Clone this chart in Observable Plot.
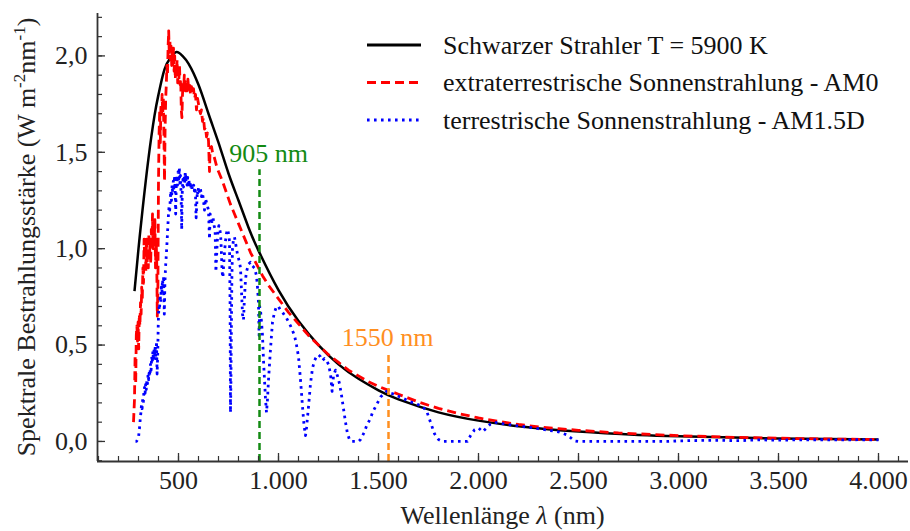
<!DOCTYPE html>
<html><head><meta charset="utf-8">
<script src="https://cdn.jsdelivr.net/npm/d3@7"></script>
<script src="https://cdn.jsdelivr.net/npm/@observablehq/plot@0.6"></script>
<style>
body{margin:0;background:#fff;}
#chart{width:910px;height:531px;}
</style></head><body><div id="chart"></div>
<script>
// Schwarzer Strahler T = 5900 K
const blackBody = [[280,0.78],[300,1.0],[320,1.2],[350,1.47],[380,1.69],[400,1.80],[430,1.93],[460,1.99],[490,2.02],[520,2.0],[550,1.96],[600,1.85],[650,1.70],[700,1.55],[750,1.39],[800,1.25],[850,1.11],[900,0.99],[1000,0.785],[1100,0.625],[1200,0.50],[1300,0.40],[1400,0.325],[1500,0.265],[1600,0.218],[1800,0.151],[2000,0.108],[2200,0.079],[2500,0.051],[2800,0.034],[3000,0.027],[3500,0.0155],[4000,0.0096]];

// extraterrestrische Sonnenstrahlung - AM0
const am0 = [[275,0.10],[280,0.22],[283,0.45],[286,0.30],[289,0.55],[292,0.60],[295,0.52],[298,0.62],[301,0.48],[304,0.66],[307,0.60],[310,0.72],[313,0.66],[316,0.80],[319,0.74],[322,0.90],[325,0.82],[328,1.05],[331,0.95],[334,1.02],[337,0.88],[340,1.05],[343,0.92],[346,1.00],[349,0.90],[352,1.08],[355,0.95],[358,1.05],[361,0.92],[364,1.10],[367,1.02],[370,1.18],[373,1.00],[376,1.12],[379,1.05],[382,1.15],[385,0.90],[388,1.05],[391,0.95],[394,0.65],[397,0.80],[400,1.35],[403,1.60],[406,1.72],[409,1.55],[412,1.75],[415,1.68],[418,1.80],[421,1.70],[424,1.78],[427,1.60],[430,1.35],[433,1.62],[436,1.78],[439,1.85],[442,1.95],[445,1.90],[448,2.05],[451,2.13],[454,2.00],[457,2.08],[460,1.98],[463,2.05],[466,1.95],[469,2.02],[472,1.96],[475,2.04],[478,1.92],[481,2.00],[484,1.88],[487,1.95],[490,1.90],[493,1.98],[496,1.86],[499,1.93],[502,1.88],[505,1.95],[508,1.85],[511,1.88],[514,1.72],[517,1.68],[520,1.80],[523,1.86],[526,1.82],[529,1.90],[532,1.85],[535,1.88],[538,1.80],[541,1.86],[544,1.82],[547,1.88],[550,1.84],[555,1.86],[560,1.80],[565,1.84],[570,1.80],[575,1.83],[580,1.78],[585,1.80],[590,1.72],[595,1.78],[600,1.75],[605,1.72],[610,1.70],[615,1.72],[620,1.66],[625,1.68],[630,1.62],[635,1.63],[640,1.58],[645,1.60],[650,1.56],[655,1.40],[658,1.52],[665,1.53],[670,1.50],[680,1.47],[690,1.43],[700,1.40],[720,1.35],[740,1.29],[760,1.23],[780,1.18],[800,1.13],[820,1.08],[840,1.03],[860,0.98],[880,0.94],[900,0.90],[920,0.86],[950,0.81],[1000,0.74],[1050,0.67],[1100,0.61],[1150,0.55],[1200,0.50],[1250,0.45],[1300,0.41],[1350,0.37],[1400,0.34],[1450,0.31],[1500,0.285],[1550,0.265],[1600,0.245],[1650,0.225],[1700,0.205],[1750,0.188],[1800,0.172],[1900,0.145],[2000,0.122],[2100,0.104],[2200,0.088],[2300,0.076],[2400,0.066],[2500,0.058],[2700,0.044],[3000,0.030],[3300,0.021],[3600,0.015],[4000,0.010]];

// terrestrische Sonnenstrahlung - AM1.5D
const am15d = [[285,0.0],[290,0.0],[295,0.01],[300,0.02],[303,0.05],[306,0.08],[309,0.12],[312,0.15],[315,0.19],[318,0.17],[321,0.22],[324,0.20],[327,0.26],[330,0.28],[333,0.25],[336,0.30],[339,0.27],[342,0.32],[345,0.30],[348,0.35],[351,0.32],[354,0.37],[357,0.34],[360,0.40],[363,0.37],[366,0.44],[369,0.41],[372,0.47],[375,0.42],[378,0.48],[381,0.45],[384,0.50],[387,0.42],[390,0.52],[393,0.35],[396,0.45],[399,0.62],[402,0.70],[405,0.68],[408,0.76],[411,0.72],[414,0.80],[417,0.77],[420,0.84],[423,0.80],[426,0.86],[429,0.66],[432,0.82],[435,0.90],[438,0.95],[441,1.00],[444,1.06],[447,1.12],[450,1.18],[453,1.22],[456,1.20],[459,1.26],[462,1.30],[465,1.25],[468,1.33],[471,1.29],[474,1.35],[477,1.30],[480,1.38],[483,1.32],[486,1.18],[489,1.34],[492,1.38],[495,1.33],[498,1.40],[501,1.36],[504,1.42],[507,1.34],[510,1.38],[513,1.28],[516,1.10],[519,1.30],[522,1.36],[525,1.32],[528,1.38],[531,1.34],[534,1.40],[537,1.35],[540,1.38],[543,1.33],[546,1.37],[549,1.32],[552,1.36],[555,1.32],[558,1.35],[561,1.31],[564,1.34],[567,1.30],[570,1.34],[573,1.31],[576,1.33],[579,1.30],[582,1.32],[585,1.28],[588,1.16],[591,1.22],[594,1.30],[597,1.28],[600,1.32],[605,1.29],[610,1.31],[615,1.27],[620,1.29],[625,1.25],[630,1.20],[635,1.26],[640,1.24],[645,1.22],[650,1.20],[655,1.05],[658,1.18],[663,1.17],[668,1.14],[673,1.16],[678,1.12],[683,1.10],[687,0.88],[690,0.95],[694,1.04],[698,1.10],[702,1.12],[706,1.10],[710,1.08],[714,1.00],[718,0.88],[722,0.85],[726,0.92],[730,0.98],[735,1.04],[740,1.08],[745,1.10],[750,1.08],[755,1.04],[758,0.70],[760,0.15],[762,0.30],[764,0.55],[767,0.85],[770,1.00],[775,1.05],[780,1.06],[785,1.03],[790,1.00],[795,0.97],[800,0.95],[805,0.93],[810,0.90],[815,0.78],[820,0.66],[825,0.63],[830,0.75],[835,0.84],[840,0.88],[850,0.92],[860,0.93],[870,0.91],[880,0.90],[890,0.86],[895,0.80],[900,0.72],[903,0.55],[906,0.70],[910,0.68],[915,0.62],[920,0.55],[925,0.42],[930,0.32],[935,0.22],[940,0.15],[945,0.22],[950,0.32],[955,0.40],[960,0.48],[965,0.55],[970,0.62],[980,0.67],[990,0.70],[1000,0.70],[1010,0.68],[1020,0.67],[1040,0.64],[1060,0.60],[1080,0.55],[1090,0.50],[1100,0.44],[1110,0.32],[1120,0.18],[1128,0.08],[1135,0.03],[1140,0.07],[1150,0.18],[1160,0.30],[1170,0.38],[1180,0.42],[1190,0.44],[1200,0.45],[1210,0.44],[1220,0.42],[1230,0.43],[1240,0.42],[1250,0.40],[1260,0.35],[1268,0.26],[1275,0.34],[1285,0.37],[1295,0.34],[1305,0.30],[1315,0.24],[1325,0.17],[1335,0.10],[1345,0.04],[1355,0.01],[1365,0.0],[1380,0.0],[1400,0.0],[1410,0.01],[1420,0.03],[1430,0.05],[1440,0.08],[1450,0.10],[1460,0.12],[1470,0.15],[1480,0.17],[1490,0.19],[1500,0.21],[1510,0.23],[1520,0.24],[1530,0.25],[1540,0.26],[1550,0.26],[1560,0.25],[1580,0.245],[1600,0.235],[1620,0.225],[1640,0.215],[1660,0.205],[1680,0.20],[1700,0.19],[1720,0.18],[1740,0.16],[1760,0.10],[1780,0.04],[1800,0.01],[1820,0.0],[1900,0.0],[1945,0.0],[1960,0.03],[1980,0.06],[2000,0.07],[2020,0.05],[2040,0.07],[2060,0.09],[2080,0.10],[2100,0.095],[2150,0.088],[2200,0.08],[2250,0.074],[2300,0.066],[2350,0.058],[2400,0.050],[2440,0.035],[2460,0.02],[2480,0.003],[2500,0.0],[2700,0.0],[2950,0.0],[3000,0.003],[3100,0.005],[3200,0.006],[3300,0.004],[3400,0.008],[3500,0.007],[3600,0.008],[3700,0.009],[3800,0.008],[3900,0.009],[4000,0.008]];

const seriesNames = ["Schwarzer Strahler T = 5900 K", "extraterrestrische Sonnenstrahlung - AM0", "terrestrische Sonnenstrahlung - AM1.5D"];
const seriesColors = ["#000000", "#ff0000", "#0000ff"];
const seriesDash = [null, "9,5", "2.6,4.4"];

const markerNm = [905, 1550];
const markerTop = [1.41, 0.457];
const markerLabel = ["905 nm", "1550 nm"];
const markerLabelX = [950, 1545];
const markerLabelY = [1.495, 0.54];
const markerColors = ["#138a13", "#ff8f1f"];

const xMajor = [500,1000,1500,2000,2500,3000,3500,4000];
const xMinor = d3.range(100, 4101, 100);
const yMajor = [0,0.5,1.0,1.5,2.0];
const yMinor = d3.range(-1, 23).map(i => i/10);

const xDomain = [95, 4150];
const yDomain = [-0.104, 2.22];

const loc = d3.formatLocale({decimal: ",", thousands: ".", grouping: [3], currency: ["", "€"]});
const fmtX = loc.format(",d");
const fmtY = loc.format(".1f");

const FONT = "'Liberation Serif','Times New Roman',serif";
const axisColor = "#333";

const series = [blackBody, am0, am15d];
const lineMarks = series.map((data, i) => Plot.line(data, {
  x: d => d[0], y: d => d[1],
  stroke: seriesColors[i], strokeWidth: i === 0 ? 2.5 : 2.8,
  strokeDasharray: seriesDash[i] || undefined,
  strokeLinecap: "butt",
  curve: i === 0 ? "natural" : "linear"
}));

const markerMarks = markerNm.flatMap((nm, i) => [
  Plot.ruleX([nm], {x: d => d, y1: yDomain[0], y2: markerTop[i], stroke: markerColors[i], strokeWidth: 2.5, strokeDasharray: "7,4"}),
  Plot.text([markerLabel[i]], {x: markerLabelX[i], y: markerLabelY[i], text: d => d, fill: markerColors[i], fontSize: 26})
]);

const plot = Plot.plot({
  width: 910, height: 531,
  marginLeft: 97, marginRight: 2, marginTop: 13, marginBottom: 70,
  style: {fontFamily: FONT, fontSize: "26px", background: "#fff", color: "#222"},
  x: {domain: xDomain},
  y: {domain: yDomain},
  marks: [
    ...lineMarks,
    ...markerMarks,
    Plot.ruleX([xDomain[0]], {stroke: axisColor, strokeWidth: 1.8}),
    Plot.ruleY([yDomain[0]], {stroke: axisColor, strokeWidth: 1.8}),
    Plot.axisX({ticks: xMajor, tickFormat: fmtX, tickSize: 0, tickPadding: 9, label: null, fill: "#222"}),
    Plot.axisX({ticks: xMajor, tickSize: -8, fill: "none", stroke: axisColor, strokeWidth: 1.3, label: null}),
    Plot.axisX({ticks: xMinor, tickSize: -5, fill: "none", stroke: axisColor, strokeWidth: 1.2, label: null}),
    Plot.axisY({ticks: yMajor, tickFormat: fmtY, tickSize: 0, tickPadding: 10, label: null, fill: "#222"}),
    Plot.axisY({ticks: yMajor, tickSize: -8, fill: "none", stroke: axisColor, strokeWidth: 1.3, label: null}),
    Plot.axisY({ticks: yMinor, tickSize: -5, fill: "none", stroke: axisColor, strokeWidth: 1.2, label: null})
  ]
});

const svg = d3.select(plot);
// y axis title with superscripts
const yl = svg.append("text")
  .attr("transform", `translate(35,${(13 + 461) / 2}) rotate(-90)`)
  .attr("text-anchor", "middle").attr("fill", "#222")
  .style("font-family", FONT).style("font-size", "26px");
yl.append("tspan").text("Spektrale Bestrahlungsstärke (W m");
yl.append("tspan").attr("dy", -10).style("font-size", "17px").text("-2");
yl.append("tspan").attr("dy", 10).text("nm");
yl.append("tspan").attr("dy", -10).style("font-size", "17px").text("-1");
yl.append("tspan").attr("dy", 10).text(")");

// x axis title
const xl = svg.append("text")
  .attr("x", (97 + 908) / 2).attr("y", 524)
  .attr("text-anchor", "middle").attr("fill", "#222")
  .style("font-family", FONT).style("font-size", "26px");
xl.append("tspan").text("Wellenlänge ");
xl.append("tspan").style("font-style", "italic").text("λ");
xl.append("tspan").text(" (nm)");

// legend
const lg = svg.append("g").style("font-family", FONT).style("font-size", "26px").attr("text-anchor", "start");
seriesNames.forEach((name, i) => {
  const y = 45 + i * 37.5;
  lg.append("line").attr("x1", 367).attr("x2", 421).attr("y1", y).attr("y2", y)
    .attr("stroke", seriesColors[i]).attr("stroke-width", 2.8)
    .attr("stroke-dasharray", seriesDash[i]);
  lg.append("text").attr("x", 443).attr("y", y).attr("dy", "0.33em")
    .attr("text-anchor", "start").attr("fill", "#111").text(name);
});

document.getElementById("chart").appendChild(plot);
</script>
</body></html>
